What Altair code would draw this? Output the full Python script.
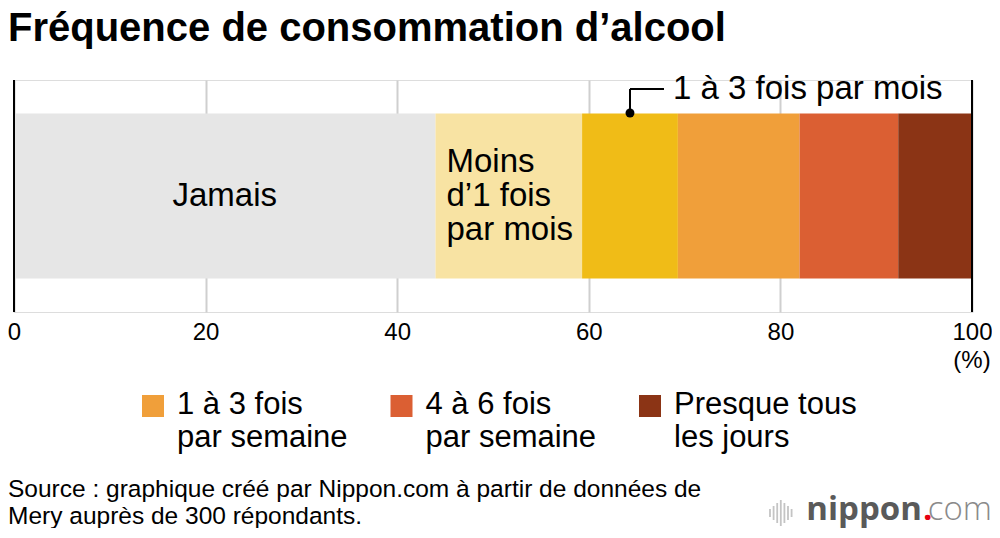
import altair as alt
import pandas as pd

# ---- data ----
categories = ["Jamais", "Moins d’1 fois par mois", "1 à 3 fois par mois",
              "1 à 3 fois par semaine", "4 à 6 fois par semaine", "Presque tous les jours"]
values = [44.0, 15.3, 10.0, 12.7, 10.3, 7.7]
colors = ["#e6e6e6", "#f8e3a3", "#f0bc17", "#f09f3a", "#db5f33", "#8b3415"]
tick_values = [0, 20, 40, 60, 80, 100]
frame_values = [0, 100]
legend_cats = ["1 à 3 fois par semaine", "4 à 6 fois par semaine", "Presque tous les jours"]
legend_labels = ["1 à 3 fois\npar semaine", "4 à 6 fois\npar semaine", "Presque tous\nles jours"]
inside_labels = {"Jamais": "Jamais", "Moins d’1 fois par mois": "Moins\nd’1 fois\npar mois"}
callout_cat = "1 à 3 fois par mois"
title_text = "Fréquence de consommation d’alcool"
source_lines = ["Source : graphique créé par Nippon.com à partir de données de",
                "Mery auprès de 300 répondants."]
logo_bars = [8, 14, 20, 26, 20, 14, 8]

FONT = "Liberation Sans"
W, H = 958, 232
TOTAL_H = 520

starts, ends = [], []
acc = 0.0
for v in values:
    starts.append(acc)
    acc += v
    ends.append(acc)
df = pd.DataFrame({"cat": categories, "value": values, "start": starts, "end": ends,
                   "row": ["all"] * len(categories)})
df["mid"] = (df["start"] + df["end"]) / 2
df["label"] = [inside_labels.get(c, "") for c in categories]

xscale = alt.Scale(domain=[0, 100], nice=False, zero=True)
yscale = alt.Scale(paddingOuter=0.203, paddingInner=0)
cscale = alt.Scale(domain=categories, range=colors)

base = alt.Chart(df)

bars = base.mark_bar(strokeWidth=0).encode(
    x=alt.X("start:Q", scale=xscale,
            axis=alt.Axis(values=tick_values, grid=True, gridColor="#cfcfcf", gridWidth=2,
                          domain=False, ticks=False, labelFontSize=24, labelFont=FONT,
                          labelColor="black", labelPadding=8, title=None, labelFlush=False,
                          labelOverlap=False)),
    x2="end:Q",
    y=alt.Y("row:N", scale=yscale, axis=None),
    color=alt.Color("cat:N", scale=cscale, legend=None),
)

frame = alt.Chart(pd.DataFrame({"v": frame_values})).mark_rule(
    color="black", strokeWidth=2).encode(x=alt.X("v:Q", scale=xscale))

pct = alt.Chart(pd.DataFrame({"v": [100], "t": ["(%)"]})).mark_text(
    font=FONT, fontSize=24, align="center", baseline="middle", color="black"
).encode(x=alt.X("v:Q", scale=xscale), y=alt.value(281), text="t:N")

jamais = base.transform_filter(alt.datum.cat == "Jamais").mark_text(
    font=FONT, fontSize=33, align="center", baseline="middle", color="black", lineBreak="\n"
).encode(x=alt.X("mid:Q", scale=xscale), y=alt.Y("row:N", scale=yscale), text="label:N")

moins = base.transform_filter(alt.datum.cat == "Moins d’1 fois par mois").mark_text(
    font=FONT, fontSize=33, align="left", baseline="middle", color="black",
    lineBreak="\n", lineHeight=34, dx=11, dy=-34
).encode(x=alt.X("start:Q", scale=xscale), y=alt.Y("row:N", scale=yscale), text="label:N")

call = base.transform_filter(alt.datum.cat == callout_cat)
dot = call.mark_circle(size=80, color="black", opacity=1).encode(
    x=alt.X("mid:Q", scale=xscale), y=alt.value(33))
vline = call.mark_rule(color="black", strokeWidth=2).encode(
    x=alt.X("mid:Q", scale=xscale), y=alt.value(9), y2=alt.value(33))
hline = call.mark_rule(color="black", strokeWidth=2, x2Offset=34).encode(
    x=alt.X("mid:Q", scale=xscale), x2="mid:Q", y=alt.value(9))
ctext = call.mark_text(font=FONT, fontSize=33, align="left", baseline="middle",
                       dx=43, color="black").encode(
    x=alt.X("mid:Q", scale=xscale), y=alt.value(9), text="cat:N")

leg_df = pd.DataFrame({"cat": legend_cats, "lab": legend_labels, "idx": list(range(len(legend_cats)))})
leg = alt.Chart(leg_df).transform_calculate(
    px="139 + datum.idx * 248.5", tx="163 + datum.idx * 248.5")
leg_sq = leg.mark_square(size=484, opacity=1).encode(
    x=alt.X("px:Q", scale=None), y=alt.value(326),
    color=alt.Color("cat:N", scale=cscale, legend=None))
leg_tx = leg.mark_text(font=FONT, fontSize=31, align="left", baseline="middle",
                       lineBreak="\n", lineHeight=33, color="black").encode(
    x=alt.X("tx:Q", scale=None), y=alt.value(325), text="lab:N")

title = alt.Chart(pd.DataFrame({"t": [title_text]})).mark_text(
    font=FONT, fontSize=40, fontWeight="bold", align="left", baseline="alphabetic", color="black"
).encode(x=alt.value(-6), y=alt.value(-39), text="t:N")

src_df = pd.DataFrame({"t": source_lines, "i": list(range(len(source_lines)))})
source = alt.Chart(src_df).transform_calculate(yy="417 + datum.i * 27").mark_text(
    font=FONT, fontSize=24.5, align="left", baseline="alphabetic", color="black"
).encode(x=alt.value(-6), y=alt.Y("yy:Q", scale=None), text="t:N")

logo_df = pd.DataFrame({"h": logo_bars, "i": list(range(len(logo_bars)))})
logo_icon = alt.Chart(logo_df).transform_calculate(
    lx="756 + datum.i * 3.6", y1="433 - datum.h / 2", y2="433 + datum.h / 2"
).mark_rule(color="#c4c4c4", strokeWidth=1.8).encode(
    x=alt.X("lx:Q", scale=None), y=alt.Y("y1:Q", scale=None), y2="y2:Q")
logo_n = alt.Chart(pd.DataFrame({"t": ["nippon"]})).mark_text(
    font="Open Sans", fontSize=33, fontWeight="bold", align="right", baseline="middle",
    color="#5a5a5a").encode(x=alt.value(908), y=alt.value(430), text="t:N")
logo_dot = alt.Chart(pd.DataFrame({"t": ["."]})).mark_text(
    font="Open Sans", fontSize=33, fontWeight="bold", align="left", baseline="middle",
    color="#e60012").encode(x=alt.value(909), y=alt.value(430), text="t:N")
logo_c = alt.Chart(pd.DataFrame({"t": ["com"]})).mark_text(
    font="Open Sans", fontSize=33, fontWeight=300, align="right", baseline="middle",
    color="#8a8a8a").encode(x=alt.value(978), y=alt.value(430), text="t:N")

chart = alt.layer(
    bars, frame, pct, jamais, moins, vline, hline, dot, ctext,
    leg_sq, leg_tx, title, source, logo_icon, logo_n, logo_dot, logo_c
).properties(
    width=W, height=H,
    autosize=alt.AutoSizeParams(type="none"),
    padding={"left": 6, "top": 72, "right": 20, "bottom": TOTAL_H - 72 - H},
).configure_view(stroke=None).configure(background="white")

chart.save("out.html", embed_options={"renderer": "svg", "actions": False})
